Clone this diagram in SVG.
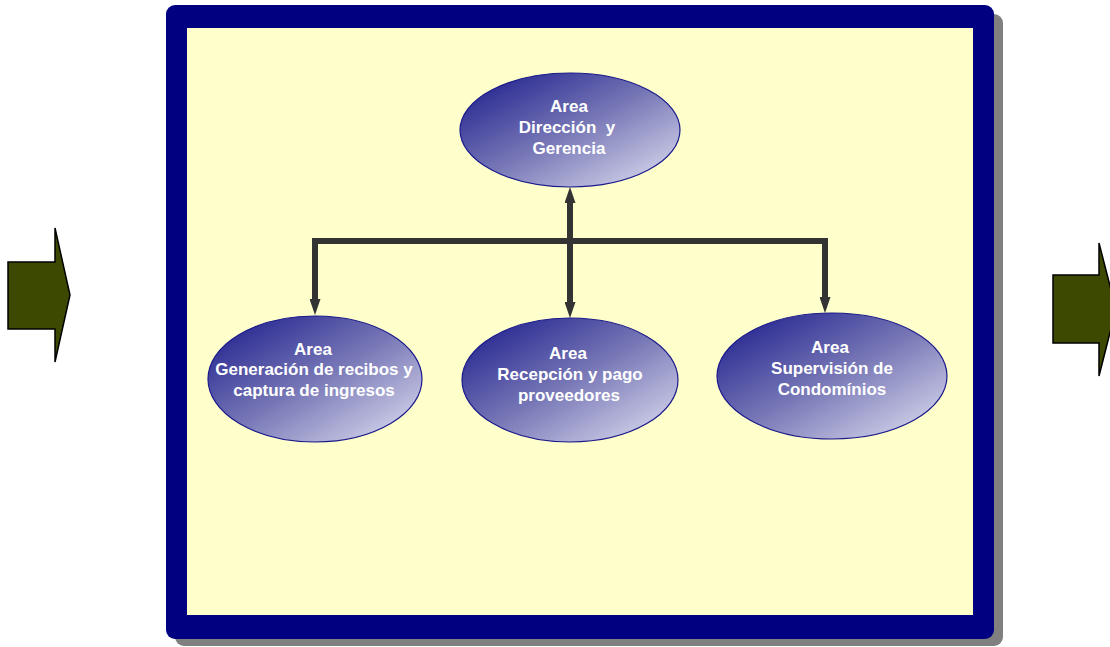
<svg xmlns="http://www.w3.org/2000/svg" width="1110" height="647" viewBox="0 0 1110 647">
<defs>
<linearGradient id="g" x1="0" y1="0" x2="1" y2="1">
<stop offset="0" stop-color="#17178a"/>
<stop offset="0.5" stop-color="#7676b6"/>
<stop offset="1" stop-color="#e4e4f4"/>
</linearGradient>
<marker id="ah" markerWidth="16" markerHeight="11" refX="0" refY="5.5" orient="auto-start-reverse" markerUnits="userSpaceOnUse" viewBox="0 0 16 11">
<path d="M0,0 L16,5.5 L0,11 Z" fill="#333333"/>
</marker>
</defs>
<style>
.node{fill:url(#g);stroke:#1a1a8c;stroke-width:1.2}
.t{font-family:"Liberation Sans",Arial,sans-serif;font-weight:bold;font-size:17px;fill:#ffffff;text-anchor:middle}
.c{stroke:#333333;stroke-width:6;fill:none}
.arr{fill:#3d4800;stroke:#000000;stroke-width:1.5}
</style>
<rect width="1110" height="647" fill="#ffffff"/>
<g id="arrow-left"><path class="arr" d="M8,262 L55,262 L55,228 L70,295 L55,362 L55,329 L8,329 Z"/></g>
<g id="arrow-right"><path class="arr" d="M1053,275 L1099,275 L1099,243 L1116,309 L1099,376 L1099,343 L1053,343 Z"/></g>
<g id="frame">
<rect x="175" y="14" width="828" height="632" rx="9" fill="#808080"/>
<rect x="166" y="5" width="828" height="634" rx="9" fill="#000080"/>
<rect x="187" y="28" width="786" height="587" fill="#ffffcc"/>
</g>
<g id="connectors">
<path class="c" d="M315,241 L825,241"/>
<path class="c" d="M315,238 L315,299" marker-end="url(#ah)"/>
<path class="c" d="M825,238 L825,297" marker-end="url(#ah)"/>
<path class="c" d="M570,203 L570,302" marker-start="url(#ah)" marker-end="url(#ah)"/>
</g>
<g id="n-direccion">
<ellipse class="node" cx="570" cy="130" rx="110" ry="57"/>
<text class="t" x="569" y="112">Area</text>
<text class="t" x="567" y="133" xml:space="preserve">Dirección  y</text>
<text class="t" x="569" y="154">Gerencia</text>
</g>
<g id="n-generacion">
<ellipse class="node" cx="315" cy="379" rx="107" ry="63"/>
<text class="t" x="313" y="355">Area</text>
<text class="t" x="314" y="375">Generación de recibos y</text>
<text class="t" x="314" y="396">captura de ingresos</text>
</g>
<g id="n-recepcion">
<ellipse class="node" cx="570" cy="380" rx="108" ry="62"/>
<text class="t" x="568" y="359">Area</text>
<text class="t" x="570" y="380">Recepción y pago</text>
<text class="t" x="569" y="401">proveedores</text>
</g>
<g id="n-supervision">
<ellipse class="node" cx="832" cy="376" rx="115" ry="63"/>
<text class="t" x="830" y="353">Area</text>
<text class="t" x="832" y="374">Supervisión de</text>
<text class="t" x="832" y="395">Condomínios</text>
</g>
</svg>
